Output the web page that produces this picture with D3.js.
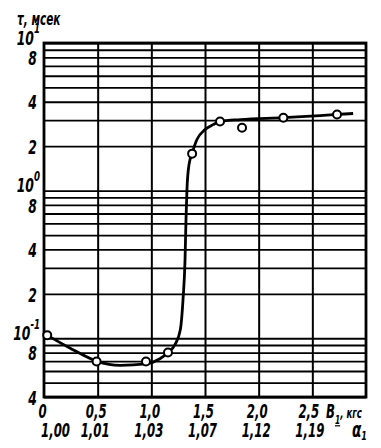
<!DOCTYPE html>
<html>
<head>
<meta charset="utf-8">
<script src="https://cdn.jsdelivr.net/npm/d3@7"></script>
<style>
  html, body { margin: 0; padding: 0; background: #fff; }
  svg { display: block; }
  .lbl { font-family: 'DejaVu Sans', sans-serif; font-weight: bold; font-style: italic; fill: #000; }
</style>
</head>
<body>
<svg id="chart" width="381" height="448"></svg>
<script>
// ---- data ----
const xTicks = [0, 0.5, 1.0, 1.5, 2.0, 2.5];
const xLabels = ["0", "0,5", "1,0", "1,5", "2,0", "2,5"];
const alphaLabels = ["1,00", "1,01", "1,03", "1,07", "1,12", "1,19"];
const yLabelValues = [10, 8, 4, 2, 1, 0.8, 0.4, 0.2, 0.1, 0.08, 0.04];
const yGridValues = [0.04, 0.05, 0.06, 0.07, 0.08, 0.09,
                     0.1, 0.2, 0.3, 0.4, 0.5, 0.6, 0.7, 0.8, 0.9,
                     1, 2, 3, 4, 5, 6, 7, 8, 9, 10];
const curveB   = [0.0, 0.24, 0.49, 0.71, 0.95, 1.08, 1.155, 1.22, 1.27, 1.295, 1.314, 1.323, 1.332, 1.351, 1.379, 1.425, 1.50, 1.575, 1.64, 1.83, 2.23, 2.73, 2.88];
const curveTau = [0.108, 0.086, 0.070, 0.0655, 0.067, 0.0726, 0.080, 0.0905, 0.114, 0.182, 0.34, 0.64, 1.02, 1.50, 1.78, 2.22, 2.59, 2.80, 2.94, 3.03, 3.12, 3.28, 3.33];
// measured points (open circles)
const pointB   = [0.03, 0.49, 0.95, 1.155, 1.38, 1.64, 1.845, 2.23, 2.73];
const pointTau = [0.105, 0.0695, 0.0695, 0.080, 1.78, 2.94, 2.67, 3.12, 3.28];

// ---- layout ----
const SX = 0.62; // horizontal condensing of the lettering
const svg = d3.select("#chart");
const x = d3.scaleLinear().domain([0, 3]).range([44, 366]);
const y = d3.scaleLog().domain([0.04, 10]).range([397, 43]);

// horizontal grid
svg.append("g")
  .attr("transform", `translate(${x(0)},0)`)
  .call(d3.axisRight(y).tickValues(yGridValues).tickSize(x(3) - x(0)).tickFormat(""))
  .call(g => g.select(".domain").remove())
  .call(g => g.selectAll("line").attr("stroke", "#000").attr("stroke-width", 1.8));

// vertical grid
svg.append("g")
  .attr("transform", `translate(0,${y(10)})`)
  .call(d3.axisBottom(x).tickValues([0.5, 1, 1.5, 2, 2.5]).tickSize(y(0.04) - y(10)).tickFormat(""))
  .call(g => g.select(".domain").remove())
  .call(g => g.selectAll("line").attr("stroke", "#000").attr("stroke-width", 2));

// frame
svg.append("rect")
  .attr("x", x(0)).attr("y", y(10))
  .attr("width", x(3) - x(0)).attr("height", y(0.04) - y(10))
  .attr("fill", "none").attr("stroke", "#000").attr("stroke-width", 2.8);

// y axis labels
const supers = new Map([[10, "1"], [1, "0"], [0.1, "-1"]]);
svg.append("g")
  .attr("transform", `translate(${x(0)},0)`)
  .call(d3.axisLeft(y).tickValues(yLabelValues).tickSize(0).tickPadding(0)
        .tickFormat(d => supers.has(d) ? "10" : String(Math.round(d / Math.pow(10, Math.floor(Math.log10(d) + 1e-9))))))
  .call(g => g.select(".domain").remove())
  .call(g => g.selectAll("text")
    .attr("class", "lbl").attr("font-size", 20)
    .attr("x", -7 / SX).attr("dy", "0.36em")
    .attr("transform", `scale(${SX},1)`)
    .each(function(d) {
      if (supers.has(d)) {
        const t = d3.select(this);
        t.attr("x", -4 / SX).attr("dy", "0.05em");
        t.append("tspan").attr("font-size", 14).attr("dy", "-0.8em").text(supers.get(d));
      }
    }));

// x axis labels: two rows
svg.append("g")
  .attr("transform", `translate(0,${y(0.04)})`)
  .call(d3.axisBottom(x).tickValues(xTicks).tickSize(0).tickFormat((d, i) => xLabels[i]))
  .call(g => g.select(".domain").remove())
  .call(g => g.selectAll("text").attr("class", "lbl").attr("font-size", 19)
    .attr("y", 21).attr("dy", 0).attr("x", (d, i) => (i === 5 ? -4 : -2) / SX)
    .attr("transform", `scale(${SX},1)`));

svg.append("g")
  .attr("transform", `translate(0,${y(0.04)})`)
  .call(d3.axisBottom(x).tickValues(xTicks).tickSize(0).tickFormat((d, i) => alphaLabels[i]))
  .call(g => g.select(".domain").remove())
  .call(g => g.selectAll("text").attr("class", "lbl").attr("font-size", 19)
    .attr("y", 40).attr("dy", 0).attr("x", (d, i) => (i === 0 ? 11 : -3) / SX)
    .attr("transform", `scale(${SX},1)`));

// axis titles
function label(px, py) {
  return svg.append("g").attr("transform", `translate(${px},${py}) scale(${SX},1)`)
    .append("text").attr("class", "lbl");
}
label(17, 25).attr("font-size", 17).text("τ, мсек");

const bl = label(326, 418).attr("font-size", 19);
bl.append("tspan").text("В");
bl.append("tspan").attr("font-size", 12).attr("dy", 6).attr("text-decoration", "underline").text("1");
bl.append("tspan").attr("font-size", 14).attr("dy", -6).text(", кгс");

const al = label(352, 437).attr("font-size", 22);
al.append("tspan").text("α");
al.append("tspan").attr("font-size", 13).attr("dy", 3).text("1");

// curve
const pts = curveB.map((b, i) => [b, curveTau[i]]);
svg.append("path")
  .datum(pts)
  .attr("fill", "none").attr("stroke", "#000").attr("stroke-width", 2.8)
  .attr("d", d3.line().x(d => x(d[0])).y(d => y(d[1])).curve(d3.curveMonotoneX));

// points
svg.append("g").selectAll("circle")
  .data(pointB.map((b, i) => [b, pointTau[i]]))
  .join("circle")
  .attr("cx", d => x(d[0])).attr("cy", d => y(d[1])).attr("r", 4)
  .attr("fill", "#fff").attr("stroke", "#000").attr("stroke-width", 2);
</script>
</body>
</html>
